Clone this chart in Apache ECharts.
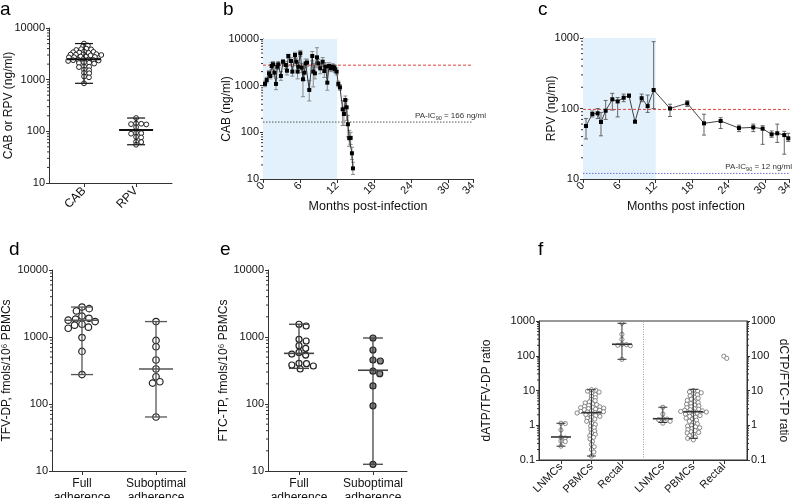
<!DOCTYPE html>
<html><head><meta charset="utf-8">
<script src="https://cdn.jsdelivr.net/npm/echarts@6/dist/echarts.min.js"></script>
<style>html,body{margin:0;padding:0;background:#fff}#c{width:796px;height:498px}</style>
</head><body><div id="c"></div>
<script>
// ---------------- DATA ----------------
// Panel a
const aCategories = ['CAB', 'RPV'];
const aCAB = [5000, 4600, 4400, 4000, 3900, 3850, 3750, 3500, 3450, 3400, 3350, 3300, 3100, 3050, 3000, 3060, 2950, 3120, 2800, 2750, 2700, 2780, 2720, 2450, 2400, 2420, 2380, 2350, 2300, 2500, 2150, 2100, 2050, 2120, 1800, 1780, 1750, 1550, 1520, 1350, 1330, 1150, 1110, 850];
const aCABSummary = [850, 2480, 5000];   // min, median, max
const aRPV = [181, 142, 140, 138, 136, 120, 93, 92, 90, 78, 76, 63, 62, 55];
const aRPVSummary = [55, 106, 181];

// Panel b
const bMonths = [0.32, 0.6, 0.97, 1.18, 1.4, 1.62, 1.84, 2.1, 2.32, 2.48, 2.9, 3.24, 3.67, 3.88, 4.1, 4.53, 4.75, 5.18, 5.39, 5.6, 5.72, 6.04, 6.26, 6.47, 6.69, 6.9, 7.12, 7.49, 7.98, 8.14, 8.41, 8.74, 8.95, 9.27, 9.66, 9.92, 10.14, 10.41, 10.68, 11.0, 11.28, 11.54, 11.65, 11.92, 12.19, 12.46, 12.9, 13.1, 13.32, 13.54, 13.75, 13.96, 14.19, 14.4, 14.56];
const bCAB = [1090, 1320, 1840, 1610, 2640, 2870, 1900, 1090, 2550, 2870, 1610, 3260, 2770, 2090, 4320, 3380, 2000, 4540, 3260, 2000, 2550, 4940, 2430, 1370, 1900, 3010, 3130, 810, 4320, 2000, 1840, 4050, 3010, 2350, 3260, 2060, 2550, 1160, 2640, 2350, 2550, 2430, 2240, 2000, 1090, 920, 311, 247, 493, 344, 149, 75, 76, 35.6, 16.9];
const bLow = [950, 1150, 1600, 1400, 2200, 2500, 1600, 820, 2200, 2400, 1300, 2900, 2300, 1700, 3900, 2800, 1600, 3900, 2700, 1400, 2100, 4200, 1900, 580, 1300, 2400, 2600, 470, 3400, 940, 1400, 2500, 2400, 1800, 2600, 1500, 2100, 800, 2200, 2000, 2200, 2100, 1900, 1700, 950, 800, 140, 140, 240, 180, 80, 50, 55, 26, 12.5];
const bHigh = [1250, 1500, 2100, 1850, 3100, 3300, 2300, 1450, 3000, 3300, 2000, 3600, 3300, 2600, 4700, 4000, 2600, 5200, 3900, 2700, 3100, 5700, 3000, 2600, 2800, 3700, 3700, 1300, 5400, 3000, 2500, 6500, 3700, 3000, 4000, 2800, 3100, 2400, 3100, 2800, 2950, 2800, 2700, 2400, 1250, 1050, 480, 350, 600, 500, 230, 110, 100, 48, 23];
const bRefLine = 2750;
const bIC90 = 166;
const bShade = [0, 12];
const bTicks = [0, 6, 12, 18, 24, 30, 34];

// Panel c
const cMonths = [0.5, 1.54, 2.42, 2.97, 3.74, 4.84, 5.72, 6.71, 7.59, 8.58, 9.68, 10.67, 11.66, 14.36, 17.21, 19.97, 22.72, 25.74, 28.1, 29.65, 31.13, 32.06, 33.22, 33.88];
const cRPV = [56.5, 83.5, 85.5, 64.4, 93, 135, 126, 142, 152, 65, 140, 108, 183, 100, 118.6, 61.6, 66.5, 52.8, 54, 51.7, 43, 44.5, 42, 37.8];
const cLow = [37, 76, 72, 41, 70, 95, 76, 125, 145, 63, 125, 88, 100, 77, 107, 42, 52, 47, 47, 31, 39, 33, 22.5, 34];
const cHigh = [72, 92, 100, 88, 130, 164, 143, 160, 160, 67, 160, 155, 887, 115, 129, 83, 74, 58, 60, 57, 48, 60, 47.5, 44.5];
const cRefLine = 97;
const cIC90 = 12;
const cShade = [0, 12];
const cTicks = [0, 6, 12, 18, 24, 30, 34];

// Panel d
const dCategories = ['Full\nadherence', 'Suboptimal\nadherence'];
const dFull = [2800, 2650, 2450, 2050, 1900, 1850, 1780, 1700, 1550, 1500, 1400, 1350, 980, 610, 275];
const dFullSummary = [275, 1780, 2800];
const dSub = [1700, 890, 716, 454, 333, 255, 215, 205, 64];
const dSubSummary = [64, 333, 1700];

// Panel e
const eCategories = ['Full\nadherence', 'Suboptimal\nadherence'];
const eFull = [1550, 1460, 923, 871, 741, 678, 589, 557, 538, 405, 400, 382, 369, 333];
const eFullSummary = [340, 570, 1550];
const eSub = [966, 640, 454, 438, 309, 284, 186, 94, 12.6];
const eSubSummary = [12.6, 319, 966];

// Panel f
const fCategories = ['LNMCs', 'PBMCs', 'Rectal', 'LNMCs', 'PBMCs', 'Rectal'];
const fLNMCsA = [1.14, 1.12, 0.73, 0.45, 0.43, 0.35, 0.34, 0.25];
const fLNMCsASummary = [0.25, 0.46, 1.14];
const fPBMCsA = [10.5, 10.2, 9.6, 9.0, 8.3, 7.6, 6.8, 6.2, 5.6, 5.1, 4.7, 4.4, 4.1, 3.9, 3.7, 3.5, 3.4, 3.3, 3.2, 3.1, 3.0, 2.9, 2.8, 2.7, 2.6, 2.5, 2.45, 2.4, 2.3, 2.25, 2.2, 2.1, 2.0, 1.9, 1.8, 1.7, 1.6, 1.5, 1.4, 1.3, 1.15, 1.05, 0.95, 0.85, 0.75, 0.68, 0.6, 0.55, 0.5, 0.45, 0.4, 0.34, 0.28, 0.24, 0.2, 0.17, 0.13];
const fPBMCsASummary = [0.13, 2.3, 10.5];
const fRectalA = [858, 414, 297, 214, 210, 200, 195, 79];
const fRectalASummary = [79, 214, 858];
const fLNMCsB = [3.3, 2.1, 1.55, 1.5, 1.45, 1.3, 1.15];
const fLNMCsBSummary = [1.2, 1.54, 3.3];
const fPBMCsB = [10.0, 9.6, 9.1, 8.6, 8.0, 7.5, 7.0, 6.5, 6.0, 5.6, 5.2, 4.8, 4.5, 4.2, 4.0, 3.8, 3.6, 3.4, 3.2, 3.0, 2.9, 2.8, 2.7, 2.6, 2.5, 2.45, 2.4, 2.3, 2.2, 2.1, 2.0, 1.9, 1.8, 1.7, 1.6, 1.5, 1.4, 1.3, 1.2, 1.1, 1.0, 0.95, 0.9, 0.85, 0.8, 0.75, 0.7, 0.65, 0.62, 0.6, 0.55, 0.5, 0.46, 0.42, 0.38];
const fPBMCsBSummary = [0.42, 2.45, 10.8];
const fRectalB = [97, 84];

// ---------------- LAYOUT / HELPERS ----------------
const FONT = '"Liberation Sans", Arial, Helvetica, sans-serif';
const AX = '#333';
const TXT = '#111';

const grids = [
  {left: 49, top: 28, width: 123, height: 155},
  {left: 263, top: 39, width: 210, height: 140},
  {left: 583, top: 38, width: 206, height: 141},
  {left: 52, top: 270, width: 134, height: 201},
  {left: 268, top: 270, width: 139, height: 201},
  {left: 539, top: 321, width: 208, height: 139, show: true, borderColor: AX, borderWidth: 1, backgroundColor: 'transparent'}
].map(g => Object.assign({outerBoundsMode: 'none', containLabel: false}, g));

const xAxis = [], yAxis = [], series = [];
const numFmt = v => String(Number(Number(v).toPrecision(6)));

function minorVals(min, max) {
  const out = [];
  const e0 = Math.round(Math.log10(min)), e1 = Math.round(Math.log10(max));
  for (let e = e0; e < e1; e++) for (let k = 2; k <= 9; k++) out.push(Number((k * Math.pow(10, e)).toPrecision(6)));
  return out;
}

function addY(g, o) {
  yAxis.push({type: 'log', logBase: 10, gridIndex: g, min: o.min, max: o.max, position: o.pos || 'left', splitLine: {show: false},
    axisLine: {show: true, onZero: false, lineStyle: {color: AX, width: 1}},
    axisTick: {show: true, length: 3, lineStyle: {color: AX}},
    axisLabel: {show: true, fontSize: 11, color: TXT, fontFamily: FONT, margin: 4, formatter: numFmt},
    name: o.name || '', nameLocation: 'middle', nameGap: o.gap || 30, nameRotate: o.rot, nameMoveOverlap: false,
    nameTextStyle: {fontSize: 12, color: TXT, fontFamily: FONT}
  });
  return yAxis.length - 1;
}

// minor log ticks drawn at the grid edge (layout helper)
function minorTicks(xi, yi, min, max, right) {
  series.push({
    type: 'custom', xAxisIndex: xi, yAxisIndex: yi, z: 6, silent: true, clip: false,
    encode: {x: 0, y: 1},
    data: minorVals(min, max).map(v => [0, v]),
    renderItem: (p, api) => {
      const cs = p.coordSys;
      const y = api.coord([api.value(0), api.value(1)])[1];
      const x0 = right ? cs.x + cs.width : cs.x;
      const x1 = right ? x0 + 2 : x0 - 2;
      return {type: 'line', shape: {x1: x0, y1: y, x2: x1, y2: y}, style: {stroke: AX, lineWidth: 1}};
    }
  });
}

function addX(g, o) {
  xAxis.push({
    type: 'value', gridIndex: g, min: o.min, max: o.max, splitLine: {show: false},
    axisLine: {show: true, onZero: false, lineStyle: {color: AX, width: 1}},
    axisTick: {show: true, length: 4, customValues: o.ticks, lineStyle: {color: AX}},
    axisLabel: {show: true, customValues: o.ticks, formatter: o.fmt, rotate: o.rotate || 0, fontSize: o.fs || 11,
      color: TXT, fontFamily: FONT, margin: o.margin || 5, lineHeight: 14, hideOverlap: false},
    name: o.name || '', nameLocation: 'middle', nameGap: o.gap || 22, nameMoveOverlap: false,
    nameTextStyle: {fontSize: 12.5, color: TXT, fontFamily: FONT}
  });
  return xAxis.length - 1;
}

// beeswarm offsets computed from values (layout only); ky squashes the vertical spacing
function swarm(values, pxDec, pxX, d, ky) {
  const placed = [];
  const offs = new Array(values.length);
  const order = values.map((v, i) => i).sort((i, j) => values[j] - values[i]);
  for (const i of order) {
    const y = Math.log10(values[i]) * pxDec * ky;
    const near = placed.filter(p => Math.abs(p.y - y) < d);
    const cands = [0];
    for (const p of near) { const dx = Math.sqrt(d * d - (p.y - y) * (p.y - y)); cands.push(p.x + dx, p.x - dx); }
    cands.sort((a, b) => Math.abs(a) - Math.abs(b));
    let x = 0;
    for (const c of cands) {
      if (near.every(p => (p.x - c) * (p.x - c) + (p.y - y) * (p.y - y) >= d * d - 1e-6)) { x = c; break; }
    }
    placed.push({x, y});
    offs[i] = x / pxX;
  }
  return offs;
}

function scatter(xi, yi, pos, values, geo, st) {
  const offs = swarm(values, geo.pxDec, geo.pxX, st.d, st.ky || 1);
  series.push({
    type: 'scatter', xAxisIndex: xi, yAxisIndex: yi, silent: true, z: 3,
    symbol: 'circle', symbolSize: st.size,
    itemStyle: {color: st.fill, borderColor: st.stroke, borderWidth: st.bw || 1, opacity: 1},
    data: values.map((v, i) => [pos + offs[i], v])
  });
}

function summary(xi, yi, items, st) {
  series.push({
    type: 'custom', xAxisIndex: xi, yAxisIndex: yi, z: 5, silent: true,
    encode: {x: 0, y: [1, 2, 3]},
    data: items,
    renderItem: (p, api) => {
      const x = api.value(0);
      const lo = api.coord([x, api.value(1)]), md = api.coord([x, api.value(2)]), hi = api.coord([x, api.value(3)]);
      const L = (x1, y1, x2, y2, w) => ({type: 'line', shape: {x1, y1, x2, y2}, style: {stroke: st.color, lineWidth: w}});
      return {type: 'group', children: [
        L(lo[0], lo[1], hi[0], hi[1], st.w),
        L(lo[0] - st.cap / 2, lo[1], lo[0] + st.cap / 2, lo[1], st.w),
        L(hi[0] - st.cap / 2, hi[1], hi[0] + st.cap / 2, hi[1], st.w),
        L(md[0] - st.med / 2, md[1], md[0] + st.med / 2, md[1], st.mw)
      ]};
    }
  });
}

function errbars(xi, yi, xs, lo, hi, color) {
  series.push({
    type: 'custom', xAxisIndex: xi, yAxisIndex: yi, z: 3, silent: true,
    encode: {x: 0, y: [1, 2]},
    data: xs.map((m, i) => [m, lo[i], hi[i]]),
    renderItem: (p, api) => {
      const a = api.coord([api.value(0), api.value(1)]), b = api.coord([api.value(0), api.value(2)]);
      const L = (x1, y1, x2, y2) => ({type: 'line', shape: {x1, y1, x2, y2}, style: {stroke: color, lineWidth: 1}});
      return {type: 'group', children: [L(a[0], a[1], b[0], b[1]), L(a[0] - 2, a[1], a[0] + 2, a[1]), L(b[0] - 2, b[1], b[0] + 2, b[1])]};
    }
  });
}

// horizontal reference line spanning the x range, optional PA-IC90 label at the right end
function hLine(xi, yi, xr, value, style, labelValue, labelDx) {
  const end = {value: [xr[1], value]};
  if (labelValue != null) {
    end.label = {
      show: true, position: 'top', align: 'right', distance: 1, offset: [labelDx || 0, 0],
      formatter: '{a|PA-IC}{s|90}{a| = ' + labelValue + ' ng/ml}',
      rich: {a: {fontSize: 8, color: '#333', fontFamily: FONT}, s: {fontSize: 5.5, color: '#333', fontFamily: FONT, padding: [5, 0, 0, 0]}}
    };
  }
  series.push({type: 'line', xAxisIndex: xi, yAxisIndex: yi, z: 2, silent: true, symbol: 'circle', symbolSize: 0,
    showSymbol: true, lineStyle: style, itemStyle: {color: style.color}, label: {show: false},
    data: [[xr[0], value], end]});
}

function timePanel(g, o) {
  const xi = addX(g, {min: 0, max: 34, ticks: o.ticks, fmt: v => String(v), rotate: 45, fs: 11, margin: 5, name: o.xname, gap: 21});
  const yi = addY(g, {min: o.ymin, max: o.ymax, name: o.yname, gap: o.ygap});
  minorTicks(xi, yi, o.ymin, o.ymax, false);
  series.push({type: 'line', xAxisIndex: xi, yAxisIndex: yi, data: [], z: 1, silent: true,
    markArea: {silent: true, itemStyle: {color: '#e2f1fb'}, data: [[{xAxis: o.shade[0]}, {xAxis: o.shade[1]}]]}});
  hLine(xi, yi, [0, 34], o.ref, {type: [3, 2], color: '#e5413a', width: 1});
  hLine(xi, yi, [0, 34], o.ic, {type: [1.5, 1.5], color: o.icColor, width: 1}, o.ic, o.labelDx);
  errbars(xi, yi, o.months, o.lo, o.hi, o.errColor);
  series.push({type: 'line', xAxisIndex: xi, yAxisIndex: yi, z: 4, silent: true,
    symbol: 'rect', symbolSize: 4, itemStyle: {color: '#000'}, lineStyle: {color: o.lineColor, width: 1},
    data: o.months.map((m, i) => [m, o.vals[i]])});
}

// ---------------- PANELS ----------------
// a
{
  const xi = addX(0, {min: -0.673, max: 1.69, ticks: [0, 1], fmt: v => aCategories[Math.round(v)], rotate: 45, fs: 12, margin: 6});
  const yi = addY(0, {min: 10, max: 10000, name: 'CAB or RPV (ng/ml)', gap: 34});
  minorTicks(xi, yi, 10, 10000, false);
  const geo = {pxDec: 155 / 3, pxX: 123 / (1.69 + 0.673)};
  const st = {size: 4.8, d: 5.2, ky: 1.9, fill: '#fff', stroke: '#222'};
  scatter(xi, yi, 0, aCAB, geo, st);
  scatter(xi, yi, 1, aRPV, geo, st);
  summary(xi, yi, [[0, ...aCABSummary], [1, ...aRPVSummary]], {color: '#111', w: 1.2, mw: 2, cap: 18, med: 34});
}
// b
timePanel(1, {ticks: bTicks, xname: 'Months post-infection', ymin: 10, ymax: 10000, yname: 'CAB (ng/ml)', ygap: 30,
  shade: bShade, ref: bRefLine, ic: bIC90, icColor: '#555', labelDx: 13, months: bMonths, vals: bCAB, lo: bLow, hi: bHigh,
  errColor: '#8a8a8a', lineColor: '#333'});
// c
timePanel(2, {ticks: cTicks, xname: 'Months post infection', ymin: 10, ymax: 1000, yname: 'RPV (ng/ml)', ygap: 25,
  shade: cShade, ref: cRefLine, ic: cIC90, icColor: '#6f6fd8', labelDx: 3, months: cMonths, vals: cRPV, lo: cLow, hi: cHigh,
  errColor: '#666', lineColor: '#444'});
// d
{
  const xi = addX(3, {min: -0.405, max: 1.405, ticks: [0, 1], fmt: v => dCategories[Math.round(v)], fs: 12, margin: 6});
  const yi = addY(3, {min: 10, max: 10000, name: 'TFV-DP, fmols/10\u2076 PBMCs', gap: 39});
  minorTicks(xi, yi, 10, 10000, false);
  const geo = {pxDec: 67, pxX: 74};
  scatter(xi, yi, 0, dFull, geo, {size: 6.5, d: 7.5, ky: 1.3, fill: '#fff', stroke: '#222', bw: 1.2});
  scatter(xi, yi, 1, dSub, geo, {size: 6.5, d: 7.5, ky: 1.3, fill: '#fff', stroke: '#222', bw: 1.2});
  summary(xi, yi, [[0, ...dFullSummary], [1, ...dSubSummary]], {color: '#555', w: 1.3, mw: 1.6, cap: 22, med: 34});
}
// e
{
  const xi = addX(4, {min: -0.419, max: 1.46, ticks: [0, 1], fmt: v => eCategories[Math.round(v)], fs: 12, margin: 6});
  const yi = addY(4, {min: 10, max: 10000, name: 'FTC-TP, fmols/10\u2076 PBMCs', gap: 38});
  minorTicks(xi, yi, 10, 10000, false);
  const geo = {pxDec: 67, pxX: 74};
  scatter(xi, yi, 0, eFull, geo, {size: 6, d: 7.5, ky: 1.3, fill: '#fff', stroke: '#222', bw: 1.2});
  scatter(xi, yi, 1, eSub, geo, {size: 6, d: 7.5, ky: 1.3, fill: '#8a8a8a', stroke: '#222', bw: 1.2});
  summary(xi, yi, [[0, ...eFullSummary], [1, ...eSubSummary]], {color: '#444', w: 1.3, mw: 1.6, cap: 20, med: 30});
}
// f
{
  const fPos = [0, 1, 2, 3.34, 4.34, 5.34];
  const xi = addX(5, {min: -0.72, max: 6.1, ticks: fPos, fmt: v => fCategories[fPos.indexOf(v)], rotate: 45, fs: 11, margin: 5});
  const yi = addY(5, {min: 0.1, max: 1000, name: 'dATP/TFV-DP ratio', gap: 46});
  addY(5, {min: 0.1, max: 1000, pos: 'right', name: 'dCTP/FTC-TP ratio', gap: 30, rot: -90});
  minorTicks(xi, yi, 0.1, 1000, false);
  minorTicks(xi, yi, 0.1, 1000, true);
  const geo = {pxDec: 34.75, pxX: 30.5};
  const st = {size: 4.2, d: 4.4, ky: 1.5, fill: '#fff', stroke: '#7a7a7a', bw: 0.9};
  const groups = [fLNMCsA, fPBMCsA, fRectalA, fLNMCsB, fPBMCsB, fRectalB];
  groups.forEach((vals, k) => scatter(xi, yi, fPos[k], vals, geo, st));
  summary(xi, yi, [[fPos[0], ...fLNMCsASummary], [fPos[1], ...fPBMCsASummary], [fPos[2], ...fRectalASummary],
    [fPos[3], ...fLNMCsBSummary], [fPos[4], ...fPBMCsBSummary]], {color: '#333', w: 1, mw: 1.6, cap: 9, med: 20});
  series.push({type: 'line', xAxisIndex: xi, yAxisIndex: yi, data: [], z: 1, silent: true,
    markLine: {silent: true, symbol: 'none', label: {show: false}, lineStyle: {type: [1, 1.5], color: '#999', width: 1},
      data: [{xAxis: 2.69}]}});
}

const letters = [['a', 0, 0], ['b', 223, 0], ['c', 538, 0], ['d', 9, 240], ['e', 220, 240], ['f', 538, 240]];

const chart = echarts.init(document.getElementById('c'), null, {renderer: 'canvas'});
chart.setOption({
  animation: false,
  backgroundColor: '#fff',
  grid: grids, xAxis, yAxis, series,
  graphic: letters.map(([t, x, y]) => ({type: 'text', left: x, top: y, silent: true,
    style: {text: t, fontSize: 19, fontFamily: FONT, fill: '#000'}}))
});
</script></body></html>
